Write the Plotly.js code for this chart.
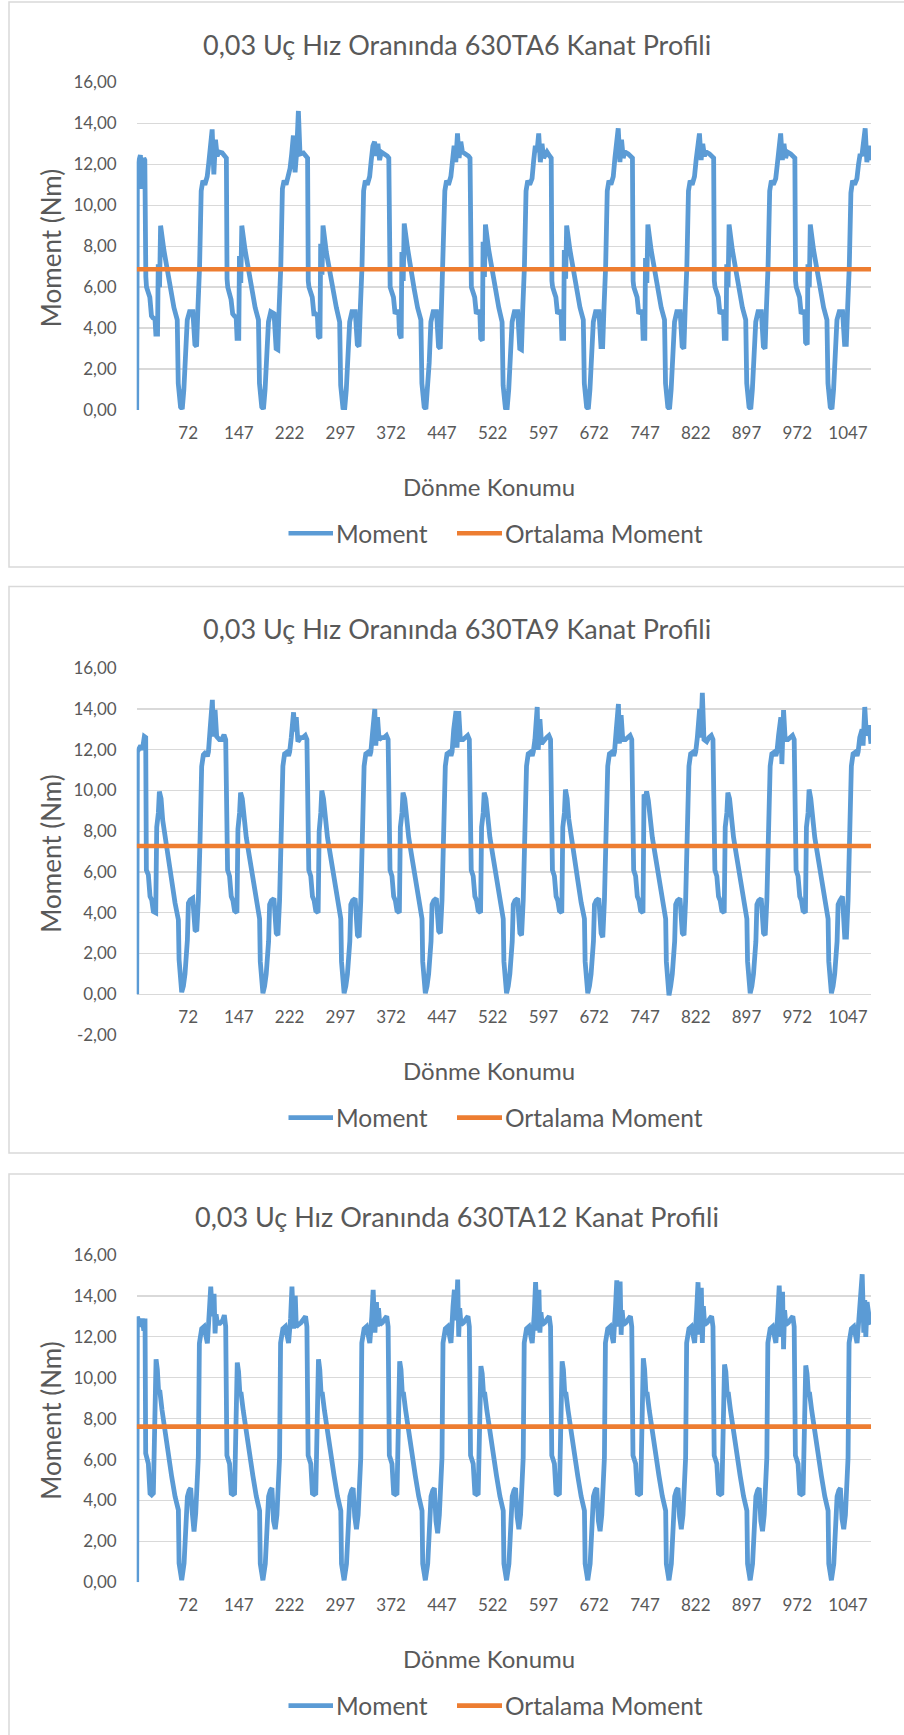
<!DOCTYPE html>
<html><head><meta charset="utf-8">
<script src="https://cdn.plot.ly/plotly-3.0.1.min.js"></script>
<style>html,body{margin:0;padding:0;background:#fff;overflow:hidden;}#chart{width:904px;height:1735px;}</style>
</head><body><div id="chart"></div>
<script>
// ---------- DATA ----------
const xTickVals = [72,147,222,297,372,447,522,597,672,747,822,897,972,1047];
const xTickText = ['72','147','222','297','372','447','522','597','672','747','822','897','972','1047'];
const yTickVals = [-2,0,2,4,6,8,10,12,14,16];
const yTickText = ['-2,00','0,00','2,00','4,00','6,00','8,00','10,00','12,00','14,00','16,00'];
const cycleStart = [9,129,249,369,489,609,729,849,969];

// 630TA6
const leadXTA6 = [-4,-3,1.5,3,6.5,8];
const leadYTA6 = [0,11.9,12.45,10.8,12.3,12.2];
const phaseTA6 = [0.5,1.5,6.4,8.8,11,14,15.3,17.8,18.8,19.5,20.8,22.3,27.2,32.1,37,42,46.9,48.4,51.8,54.3,56.7,59.2,61.7,65.1,70,73,75.5,77.5,79.9,82.3,84.8,87.7,91.2,93.6,96,98.5,101,103.4,105.9,108.3,113.3,117.2,119.5];
const cyc1TA6 = [6.5,6.0,5.5,4.6,4.5,4.45,3.7,3.7,7.0,7.0,6.0,9.0,7.8,6.8,5.9,5.0,4.4,1.3,0.15,0.05,1.0,2.3,4.4,4.8,4.8,3.2,3.1,5.0,7.0,10.7,11.2,11.0,11.4,12.1,12.7,13.7,11.5,13.2,12.4,12.6,12.55,12.4,12.3];
const cyc2TA6 = [6.4,6.0,5.4,4.7,4.6,4.5,3.5,3.5,7.4,7.4,6.2,9.0,7.8,6.8,5.8,5.0,4.4,1.3,0.15,0.05,1.0,2.4,4.3,4.8,4.7,3.0,2.95,5.0,7.0,10.8,11.2,11.0,11.5,11.8,12.5,13.4,11.6,12.6,14.6,12.5,12.55,12.4,12.3];
const cyc3TA6 = [6.3,6.0,5.5,4.7,4.7,4.6,3.6,3.5,8.0,8.0,6.6,9.0,7.7,6.7,5.8,5.0,4.3,1.2,0.1,0.05,1.0,2.3,4.3,4.8,4.8,3.2,3.1,5.0,7.0,10.7,11.2,11.0,11.4,12.2,12.9,13.1,12.4,13.0,12.2,12.6,12.5,12.4,12.3];
const cyc4TA6 = [6.3,6.0,5.5,4.7,4.8,4.8,3.7,3.5,7.6,7.6,6.3,9.1,7.9,6.8,5.9,5.0,4.4,1.3,0.15,0.05,1.0,2.3,4.3,4.8,4.8,3.1,3.0,5.0,7.0,10.7,11.2,11.0,11.4,12.2,12.9,12.1,13.5,12.3,13.1,12.6,12.5,12.4,12.3];
const cyc5TA6 = [6.3,6.0,5.5,4.7,4.8,4.8,3.5,3.4,8.1,8.1,6.5,9.05,7.8,6.8,5.9,5.0,4.3,1.2,0.1,0.05,1.0,2.3,4.3,4.8,4.8,3.0,2.95,5.0,7.0,10.7,11.2,11.0,11.3,12.2,12.9,12.6,13.5,12.1,13.0,12.3,12.6,12.4,12.3];
const cyc6TA6 = [6.3,6.0,5.5,4.7,4.8,4.8,3.5,3.5,7.7,7.7,6.4,9.0,7.8,6.8,5.9,5.0,4.4,1.3,0.15,0.05,1.0,2.3,4.3,4.8,4.8,3.1,3.1,5.0,7.0,10.7,11.2,11.0,11.4,12.3,13.0,13.75,12.1,13.2,12.3,12.6,12.5,12.4,12.3];
const cyc7TA6 = [6.3,6.0,5.5,4.7,4.8,4.8,3.5,3.5,7.3,7.3,6.2,9.05,7.8,6.8,5.9,5.0,4.4,1.3,0.15,0.05,1.0,2.3,4.3,4.8,4.8,3.1,3.0,5.0,7.0,10.7,11.2,11.0,11.4,12.2,12.9,13.5,12.2,13.0,12.4,12.6,12.5,12.4,12.3];
const cyc8TA6 = [6.3,6.0,5.5,4.7,4.8,4.8,3.5,3.5,7.0,7.0,6.0,9.05,7.8,6.8,5.9,5.0,4.4,1.3,0.15,0.05,1.0,2.3,4.3,4.8,4.8,3.1,3.0,5.0,7.0,10.7,11.2,11.0,11.3,12.0,12.8,13.5,12.2,13.0,12.3,12.6,12.5,12.4,12.3];
const cyc9TA6 = [6.3,6.0,5.5,4.7,4.8,4.8,3.3,3.2,7.0,7.0,6.0,9.05,7.8,6.8,5.9,5.0,4.4,1.3,0.15,0.05,1.0,2.3,4.4,4.8,4.8,3.2,3.2,5.0,7.0,10.6,11.2,11.0,11.3,12.0,12.5,12.4,13.0,13.75,12.1,12.9];
const tailXTA6 = [1081];
const tailYTA6 = [12.2];
const meanTA6 = 6.87;

// 630TA9
const leadXTA9 = [-4,-3,1.9,4.4,7.3,9.3];
const leadYTA9 = [0,11.9,12.2,12.0,12.65,12.6];
const phaseTA9 = [1.3,4.2,6.7,9.2,11.6,15.1,16.6,19,20.5,23,25.4,28.9,33.8,38.7,43.7,48.6,49.6,53.5,56,58.4,61.9,63.4,66,69.8,73.2,75.7,78.1,80.6,83,85.5,89.5,91.4,93,95.4,98.8,100.3,102.8,105.2,109.2,112.6,116,118.5];
const cyc1TA9 = [6.1,5.86,4.8,4.63,4.06,4.0,8.2,8.9,9.95,9.6,8.55,7.74,6.76,5.6,4.47,3.65,1.7,0.1,0.4,1.0,2.67,4.47,4.63,4.71,3.16,3.1,4.6,7.58,11.18,11.75,11.9,11.67,11.9,12.98,14.45,12.65,13.96,12.65,12.5,12.5,12.73,12.5];
const cyc2TA9 = [6.1,5.8,4.8,4.6,4.1,4.0,8.1,8.9,9.9,9.6,8.5,7.7,6.7,5.6,4.5,3.7,1.6,0.05,0.4,1.0,2.6,4.4,4.6,4.7,3.0,2.9,4.6,7.5,11.2,11.8,11.9,11.7,11.9,12.6,13.84,12.9,13.6,12.4,12.6,12.6,12.7,12.5];
const cyc3TA9 = [6.1,5.8,4.8,4.6,4.1,4.0,8.0,8.9,10.0,9.6,8.6,7.7,6.7,5.6,4.5,3.7,1.6,0.05,0.4,1.0,2.6,4.4,4.6,4.7,2.9,2.8,4.6,7.5,11.2,11.8,11.9,11.7,11.9,12.8,14.0,12.2,13.6,12.5,12.6,12.6,12.7,12.5];
const cyc4TA9 = [6.1,5.8,4.8,4.6,4.1,4.0,8.2,8.9,9.9,9.6,8.5,7.7,6.7,5.6,4.5,3.7,1.6,0.05,0.4,1.0,2.6,4.4,4.6,4.7,3.1,3.0,4.6,7.5,11.2,11.8,11.9,11.7,11.9,13.0,13.9,12.1,13.9,12.5,12.5,12.6,12.7,12.5];
const cyc5TA9 = [6.1,5.8,4.8,4.6,4.1,4.0,8.2,8.9,9.9,9.6,8.5,7.7,6.7,5.6,4.5,3.7,1.6,0.05,0.4,1.0,2.6,4.4,4.6,4.7,3.0,2.9,4.6,7.5,11.2,11.8,11.9,11.7,11.9,12.5,14.1,12.0,13.5,12.3,12.5,12.6,12.7,12.5];
const cyc6TA9 = [6.1,5.8,4.8,4.6,4.1,4.0,8.2,8.9,10.05,9.6,8.6,7.7,6.7,5.6,4.5,3.7,1.6,0.05,0.4,1.0,2.6,4.4,4.6,4.7,3.0,2.8,4.6,7.5,11.2,11.8,11.9,11.7,11.9,12.9,14.25,12.3,13.7,12.5,12.5,12.6,12.7,12.5];
const cyc7TA9 = [6.1,5.8,4.8,4.6,4.1,4.0,9.8,9.7,9.95,9.5,8.5,7.7,6.7,5.6,4.5,3.7,1.6,-0.05,0.4,1.0,2.6,4.4,4.6,4.7,3.0,2.9,4.6,7.5,11.2,11.8,11.9,11.7,11.9,12.6,14.0,12.6,14.8,12.5,12.4,12.6,12.7,12.5];
const cyc8TA9 = [6.1,5.8,4.8,4.6,4.1,4.0,8.2,8.9,9.9,9.6,8.5,7.7,6.7,5.6,4.5,3.7,1.6,0.05,0.4,1.0,2.6,4.4,4.6,4.7,3.0,2.9,4.6,7.5,11.2,11.8,11.9,11.7,11.9,12.7,13.6,11.3,13.95,12.5,12.5,12.6,12.7,12.5];
const cyc9TA9 = [6.1,5.8,4.8,4.6,4.1,4.0,8.2,8.9,10.05,9.6,8.6,7.7,6.7,5.6,4.5,3.7,1.6,0.05,0.4,1.0,2.6,4.4,4.6,4.8,2.8,2.8,4.6,7.5,11.2,11.8,11.9,11.7,11.9,12.6,13.0,12.2,14.1,12.7,13.2];
const tailXTA9 = [1081];
const tailYTA9 = [12.3];
const meanTA9 = 7.28;

// 630TA12
const leadXTA12 = [-4,-3,1.9,4.4,6.5,8.3];
const leadYTA12 = [0,12.98,12.5,12.9,12.3,12.9];
const phaseTA12 = [0.3,4.2,6.7,9.2,11.6,15.6,17.5,19.5,21,24.4,28.9,33.8,38.7,43.7,48.6,49.6,53.5,57,59.9,61.9,64.5,66.8,69.2,71.7,74.2,75.7,78.1,79.6,83,86.5,89.5,91.4,94.4,96.4,99,101.3,102.8,104.3,106.2,110,114,116.5,118.5];
const cyc1TA12 = [6.3,5.8,4.35,4.27,4.35,10.9,10.4,9.24,9.4,8.42,7.28,6.3,5.16,4.19,3.53,0.93,0.1,0.93,2.56,4.19,4.5,4.6,3.37,2.48,3.37,4.5,6.14,11.68,12.4,12.5,11.85,11.68,13.3,14.45,13.0,14.1,12.17,13.1,12.66,12.66,12.8,13.06,12.5];
const cyc2TA12 = [6.2,5.8,4.35,4.3,4.35,10.74,10.3,9.2,9.3,8.4,7.3,6.3,5.2,4.2,3.5,0.9,0.1,0.9,2.5,4.2,4.5,4.6,3.0,2.6,3.3,4.5,6.1,11.7,12.4,12.5,11.8,11.7,12.9,14.46,12.4,14.0,12.5,12.6,12.6,12.7,12.9,13.0,12.5];
const cyc3TA12 = [6.2,5.8,4.35,4.3,4.35,10.9,10.4,9.2,9.3,8.4,7.3,6.3,5.2,4.2,3.5,0.9,0.1,0.9,2.5,4.2,4.5,4.6,3.2,2.6,3.3,4.5,6.1,11.7,12.4,12.5,11.8,11.7,13.0,14.3,12.2,13.7,12.5,13.4,12.6,12.7,12.9,13.0,12.5];
const cyc4TA12 = [6.2,5.8,4.35,4.3,4.35,10.8,10.4,9.2,9.3,8.4,7.3,6.3,5.2,4.2,3.5,0.9,0.1,0.9,2.5,4.2,4.5,4.6,3.0,2.4,3.3,4.5,6.1,11.7,12.4,12.5,11.8,11.7,13.5,14.3,12.8,14.8,12.0,13.4,12.6,12.7,12.9,13.0,12.5];
const cyc5TA12 = [6.2,5.8,4.35,4.3,4.35,10.57,10.2,9.2,9.3,8.4,7.3,6.3,5.2,4.2,3.5,0.9,0.1,0.9,2.5,4.2,4.5,4.6,3.2,2.6,3.3,4.5,6.1,11.7,12.4,12.5,11.8,11.7,13.1,14.67,12.3,14.3,12.2,13.2,12.6,12.7,12.9,13.0,12.5];
const cyc6TA12 = [6.2,5.8,4.35,4.3,4.35,10.8,10.4,9.2,9.3,8.4,7.3,6.3,5.2,4.2,3.5,0.9,0.1,0.9,2.5,4.2,4.5,4.6,3.0,2.5,3.3,4.5,6.1,11.7,12.4,12.5,11.8,11.7,13.4,14.76,12.5,14.7,12.1,13.3,12.6,12.7,12.9,13.0,12.5];
const cyc7TA12 = [6.2,5.8,4.35,4.3,4.35,10.95,10.4,9.2,9.3,8.4,7.3,6.3,5.2,4.2,3.5,0.9,0.1,0.9,2.5,4.2,4.5,4.6,3.2,2.6,3.3,4.5,6.1,11.7,12.4,12.5,11.8,11.7,13.3,14.67,12.1,14.4,11.7,13.5,12.6,12.7,12.9,13.0,12.5];
const cyc8TA12 = [6.2,5.8,4.35,4.3,4.35,10.65,10.3,9.2,9.3,8.4,7.3,6.3,5.2,4.2,3.5,0.9,0.1,0.9,2.5,4.2,4.5,4.6,3.0,2.5,3.3,4.5,6.1,11.7,12.4,12.5,11.8,11.7,13.2,14.5,12.0,14.2,11.4,13.3,12.6,12.7,12.9,13.0,12.5];
const cyc9TA12 = [6.2,5.8,4.35,4.3,4.35,10.6,10.2,9.2,9.3,8.4,7.3,6.3,5.2,4.2,3.5,0.9,0.1,0.9,2.5,4.2,4.5,4.6,3.1,2.6,3.3,4.5,6.1,11.7,12.4,12.5,11.8,11.7,13.0,14.0,15.06,12.2,13.8,12.0,13.7,12.8];
const tailXTA12 = [1081];
const tailYTA12 = [12.6];
const meanTA12 = 7.61;

const titles = ['0,03 Uç Hız Oranında 630TA6 Kanat Profili','0,03 Uç Hız Oranında 630TA9 Kanat Profili','0,03 Uç Hız Oranında 630TA12 Kanat Profili'];

// ---------- BUILD ----------
function build(leadX, leadY, phase, cycles, tailX, tailY){
  const x = leadX.slice(), y = leadY.slice();
  cycles.forEach((c,k)=>{ c.forEach((v,j)=>{ x.push(cycleStart[k]+phase[j]); y.push(v); }); });
  return {x:x.concat(tailX), y:y.concat(tailY)};
}
const series = [
  build(leadXTA6, leadYTA6, phaseTA6, [cyc1TA6,cyc2TA6,cyc3TA6,cyc4TA6,cyc5TA6,cyc6TA6,cyc7TA6,cyc8TA6,cyc9TA6], tailXTA6, tailYTA6),
  build(leadXTA9, leadYTA9, phaseTA9, [cyc1TA9,cyc2TA9,cyc3TA9,cyc4TA9,cyc5TA9,cyc6TA9,cyc7TA9,cyc8TA9,cyc9TA9], tailXTA9, tailYTA9),
  build(leadXTA12, leadYTA12, phaseTA12, [cyc1TA12,cyc2TA12,cyc3TA12,cyc4TA12,cyc5TA12,cyc6TA12,cyc7TA12,cyc8TA12,cyc9TA12], tailXTA12, tailYTA12)
];
const means = [meanTA6, meanTA9, meanTA12];

const W=904, H=1735;
const fx=v=>v/W, fy=v=>1-v/H;
const FONT='Lato, "Open Sans", sans-serif';
const GREY='#595959', BLUE='#5B9BD5', ORANGE='#ED7D31', GRID='#D9D9D9';
const PL=136.7, PR=871, XR=[-4,1081];
const panels=[
  {top:2, bottom:567, plotTop:82.3, zero:410, plotBottom:410, range:[0,16]},
  {top:586.5, bottom:1153, plotTop:668.3, zero:994.3, plotBottom:1035, range:[-2,16]},
  {top:1174, bottom:1745, plotTop:1255, zero:1582.3, plotBottom:1582.3, range:[0,16]}
];

const data=[], shapes=[], annotations=[];
const layout={width:W,height:H,margin:{l:0,r:0,t:0,b:0},paper_bgcolor:'#fff',plot_bgcolor:'rgba(0,0,0,0)',showlegend:false,separators:', ',font:{family:FONT,color:GREY}};

panels.forEach((p,i)=>{
  const s = i===0?'':String(i+1);
  const xa = {domain:[fx(PL),fx(PR)], range:XR, tickmode:'array', tickvals:xTickVals, ticktext:xTickText,
    showgrid:false, zeroline:false, showline:false, ticks:'', ticklabelstandoff:11,
    tickfont:{family:FONT,size:17,color:GREY}, fixedrange:true};
  if(p.zero!==p.plotBottom){ xa.anchor='free'; xa.position=fy(p.zero); } else { xa.anchor='y'+s; }
  layout['xaxis'+s]=xa;
  const tv=[], tt=[];
  yTickVals.forEach((v,j)=>{ if(v>=p.range[0] && v<=p.range[1]){ tv.push(v); tt.push(yTickText[j]); } });
  layout['yaxis'+s]={domain:[fy(p.plotBottom),fy(p.plotTop)], range:p.range, anchor:'x'+s, tickmode:'array', tickvals:tv, ticktext:tt,
    showgrid:true, gridcolor:GRID, gridwidth:1.3, zeroline:false, showline:false, ticks:'', ticklabelstandoff:19,
    tickfont:{family:FONT,size:17,color:GREY}, fixedrange:true};
  data.push({type:'scatter',mode:'lines',x:series[i].x,y:series[i].y,xaxis:'x'+s,yaxis:'y'+s,name:'Moment',
    line:{color:BLUE,width:4.8},hoverinfo:'skip'});
  data.push({type:'scatter',mode:'lines',x:XR,y:[means[i],means[i]],xaxis:'x'+s,yaxis:'y'+s,name:'Ortalama Moment',
    line:{color:ORANGE,width:4.6},hoverinfo:'skip'});
  shapes.push({type:'rect',xref:'paper',yref:'paper',x0:fx(9),x1:fx(912),y0:fy(p.bottom),y1:fy(p.top),line:{color:GRID,width:1.5},layer:'below'});
  annotations.push({xref:'paper',yref:'paper',x:fx(457),y:fy(p.zero-365.5),text:titles[i],showarrow:false,xanchor:'center',yanchor:'middle',
    font:{family:FONT,size:27,color:GREY}});
  annotations.push({xref:'paper',yref:'paper',x:fx(51),y:fy((p.plotTop+p.plotBottom)/2+2),text:'Moment (Nm)',textangle:-90,showarrow:false,xanchor:'center',yanchor:'middle',
    font:{family:FONT,size:26,color:GREY}});
  annotations.push({xref:'paper',yref:'paper',x:fx(489),y:fy(p.zero+76.5),text:'Dönme Konumu',showarrow:false,xanchor:'center',yanchor:'middle',
    font:{family:FONT,size:24,color:GREY}});
  const ly = p.zero+123.3;
  shapes.push({type:'line',xref:'paper',yref:'paper',x0:fx(288.5),x1:fx(333),y0:fy(ly),y1:fy(ly),line:{color:BLUE,width:4.6}});
  shapes.push({type:'line',xref:'paper',yref:'paper',x0:fx(457),x1:fx(502),y0:fy(ly),y1:fy(ly),line:{color:ORANGE,width:4.6}});
  annotations.push({xref:'paper',yref:'paper',x:fx(333.5),y:fy(ly),text:'Moment',showarrow:false,xanchor:'left',yanchor:'middle',
    font:{family:FONT,size:24.5,color:GREY}});
  annotations.push({xref:'paper',yref:'paper',x:fx(502.5),y:fy(ly),text:'Ortalama Moment',showarrow:false,xanchor:'left',yanchor:'middle',
    font:{family:FONT,size:24.5,color:GREY}});
});
layout.shapes=shapes; layout.annotations=annotations;
Plotly.newPlot('chart', data, layout, {staticPlot:true, displayModeBar:false});
</script></body></html>
